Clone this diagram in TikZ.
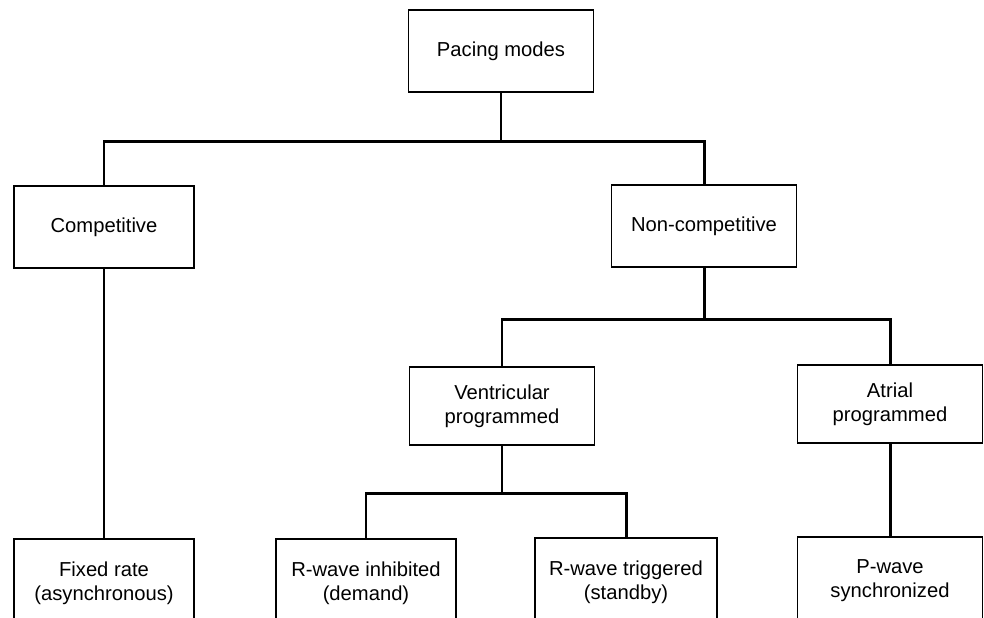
\documentclass[tikz,border=0pt]{standalone}
\usepackage{fontspec}
\setmainfont{Liberation Sans}
\usetikzlibrary{positioning}
\tikzstyle{box} = [rectangle, minimum width=3.7cm, minimum height=1.65cm, inner sep=2pt, text centered, align=center, draw=black, line width=0.9pt, font=\fontsize{11.5}{13.5}\selectfont]
\tikzstyle{leaf} = [box, minimum height=1.75cm]
\tikzstyle{link} = [line width=1.7pt]

\begin{document}
\begin{tikzpicture}[x=0.02cm, y=-0.02cm]
        \useasboundingbox (0,0) rectangle (984,618);
        \node (pacing) [box] at (501,51) {Pacing modes};
        \node (comp) [box, minimum width=3.6cm] at (104,227) {Competitive};
        \node (noncomp) [box] at (704,226) {Non-competitive};
        \node (vent) [box, minimum height=1.55cm] at (502,406) {Ventricular\\programmed};
        \node (atrial) [box, minimum height=1.55cm] at (890,404) {Atrial\\programmed};
        \node (fixed) [leaf, minimum width=3.6cm] at (104,583) {Fixed rate\\(asynchronous)};
        \node (rinh) [leaf, minimum width=3.6cm] at (366,583) {R-wave inhibited\\(demand)};
        \node (rtrig) [leaf, minimum width=3.65cm] at (626,582) {R-wave triggered\\(standby)};
        \node (pwave) [leaf] at (890,581) {P-wave\\synchronized};
        \draw [link] (pacing.south) -- ++(0,48) -| (comp.north);
        \draw [link] (pacing.south) -- ++(0,48) -| (noncomp.north);
        \draw [link] (comp.south) -- (fixed.north);
        \draw [link] (noncomp.south) -- ++(0,51) -| (vent.north);
        \draw [link] (noncomp.south) -- ++(0,51) -| (atrial.north);
        \draw [link] (vent.south) -- ++(0,48) -| (rinh.north);
        \draw [link] (vent.south) -- ++(0,48) -| (rtrig.north);
        \draw [link] (atrial.south) -- (pwave.north);
    \end{tikzpicture}
\end{document}
